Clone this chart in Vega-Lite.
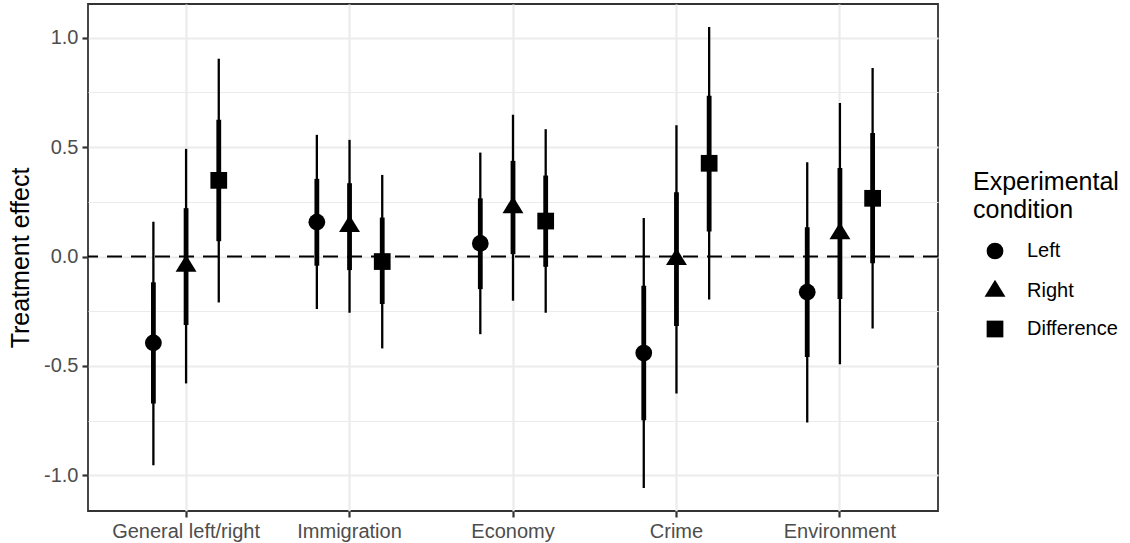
{
  "$schema": "https://vega.github.io/schema/vega-lite/v6.json",
  "width": 850,
  "height": 507,
  "autosize": "none",
  "padding": {"left": 88, "top": 4, "right": 192, "bottom": 32},
  "config": {
    "font": "Liberation Sans",
    "view": {"stroke": "#333333", "strokeWidth": 1.8}
  },
  "data": {
    "values": [
      {"topic": "General left/right", "condition": "Left", "est": -0.395, "lo95": -0.954, "hi95": 0.159, "lo68": -0.672, "hi68": -0.118},
      {"topic": "General left/right", "condition": "Right", "est": -0.044, "lo95": -0.58, "hi95": 0.492, "lo68": -0.313, "hi68": 0.221},
      {"topic": "General left/right", "condition": "Difference", "est": 0.348, "lo95": -0.21, "hi95": 0.904, "lo68": 0.07, "hi68": 0.625},
      {"topic": "Immigration", "condition": "Left", "est": 0.157, "lo95": -0.24, "hi95": 0.556, "lo68": -0.042, "hi68": 0.355},
      {"topic": "Immigration", "condition": "Right", "est": 0.138, "lo95": -0.257, "hi95": 0.533, "lo68": -0.062, "hi68": 0.335},
      {"topic": "Immigration", "condition": "Difference", "est": -0.023, "lo95": -0.42, "hi95": 0.373, "lo68": -0.217, "hi68": 0.178},
      {"topic": "Economy", "condition": "Left", "est": 0.06, "lo95": -0.355, "hi95": 0.475, "lo68": -0.149, "hi68": 0.266},
      {"topic": "Economy", "condition": "Right", "est": 0.224, "lo95": -0.202, "hi95": 0.648, "lo68": 0.011, "hi68": 0.437},
      {"topic": "Economy", "condition": "Difference", "est": 0.162, "lo95": -0.257, "hi95": 0.582, "lo68": -0.047, "hi68": 0.37},
      {"topic": "Crime", "condition": "Left", "est": -0.441, "lo95": -1.058, "hi95": 0.176, "lo68": -0.748, "hi68": -0.134},
      {"topic": "Crime", "condition": "Right", "est": -0.013, "lo95": -0.626, "hi95": 0.6, "lo68": -0.318, "hi68": 0.294},
      {"topic": "Crime", "condition": "Difference", "est": 0.426, "lo95": -0.196, "hi95": 1.049, "lo68": 0.114, "hi68": 0.735},
      {"topic": "Environment", "condition": "Left", "est": -0.163, "lo95": -0.759, "hi95": 0.431, "lo68": -0.459, "hi68": 0.134},
      {"topic": "Environment", "condition": "Right", "est": 0.105, "lo95": -0.492, "hi95": 0.701, "lo68": -0.194, "hi68": 0.404},
      {"topic": "Environment", "condition": "Difference", "est": 0.266, "lo95": -0.329, "hi95": 0.861, "lo68": -0.031, "hi68": 0.564}
    ]
  },
  "layer": [
    {
      "data": {"values": [{}]},
      "mark": {"type": "rule", "color": "black", "strokeWidth": 2.2, "strokeDash": [15, 9]},
      "encoding": {"y": {"datum": 0, "type": "quantitative", "title": "Treatment effect"}}
    },
    {
      "encoding": {
        "x": {
          "field": "topic",
          "type": "nominal",
          "scale": {"domain": ["General left/right", "Immigration", "Economy", "Crime", "Environment"], "paddingInner": 0, "paddingOuter": 0.1},
          "axis": {
            "title": null,
            "labelAngle": 0,
            "domain": false,
            "grid": true,
            "gridColor": "#EBEBEB",
            "gridWidth": 2.2,
            "bandPosition": 0.5,
            "tickColor": "#333333",
            "tickWidth": 2.2,
            "tickSize": 6,
            "labelFontSize": 20,
            "labelColor": "#4D4D4D",
            "labelPadding": 4
          }
        },
        "xOffset": {
          "field": "condition",
          "type": "nominal",
          "scale": {"domain": ["Left", "Right", "Difference"], "paddingInner": 0, "paddingOuter": 1.5}
        }
      },
      "layer": [
        {
          "mark": {"type": "rule", "color": "black", "strokeWidth": 2.3},
          "encoding": {
            "y": {
              "field": "lo95",
              "type": "quantitative",
              "title": "Treatment effect",
              "scale": {"domain": [-1.163, 1.154], "nice": false, "zero": false},
              "axis": {
                "values": [-1, -0.75, -0.5, -0.25, 0, 0.25, 0.5, 0.75, 1],
                "labelExpr": "abs(datum.value % 0.5) < 0.001 ? replace(format(datum.value, '.1f'), '\u2212', '-') : ''",
                "grid": true,
                "gridColor": "#EBEBEB",
                "gridWidth": {"condition": {"test": "abs(datum.value % 0.5) < 0.001", "value": 2.2}, "value": 1.1},
                "tickOpacity": {"condition": {"test": "abs(datum.value % 0.5) < 0.001", "value": 1}, "value": 0},
                "tickColor": "#333333",
                "tickWidth": 2.2,
                "tickSize": 6,
                "domain": false,
                "labelFontSize": 20,
                "labelColor": "#4D4D4D",
                "labelPadding": 4,
                "titleFontSize": 25,
                "titleColor": "black",
                "titleFontWeight": "normal",
                "titlePadding": 10
              }
            },
            "y2": {"field": "hi95"}
          }
        },
        {
          "mark": {"type": "rule", "color": "black", "strokeWidth": 4.8},
          "encoding": {
            "y": {"field": "lo68", "type": "quantitative", "title": "Treatment effect"},
            "y2": {"field": "hi68"}
          }
        },
        {
          "mark": {"type": "point", "filled": true, "opacity": 1, "color": "black", "size": 280, "strokeWidth": 0},
          "encoding": {
            "y": {"field": "est", "type": "quantitative", "title": "Treatment effect"},
            "shape": {
              "field": "condition",
              "type": "nominal",
              "scale": {"domain": ["Left", "Right", "Difference"], "range": ["circle", "M0,-1.35L1.25,0.68L-1.25,0.68Z", "square"]},
              "legend": {
                "title": ["Experimental", "condition"],
                "orient": "none",
                "legendX": 885,
                "legendY": 166,
                "padding": 0,
                "titleFontSize": 25,
                "titleFontWeight": "normal",
                "titleColor": "black",
                "titleLineHeight": 28,
                "titlePadding": 18,
                "labelFontSize": 20,
                "labelColor": "black",
                "labelOffset": 22,
                "rowPadding": 18,
                "symbolSize": 280,
                "symbolFillColor": "black",
                "symbolStrokeWidth": 0,
                "symbolOffset": 12
              }
            }
          }
        }
      ]
    }
  ]
}
